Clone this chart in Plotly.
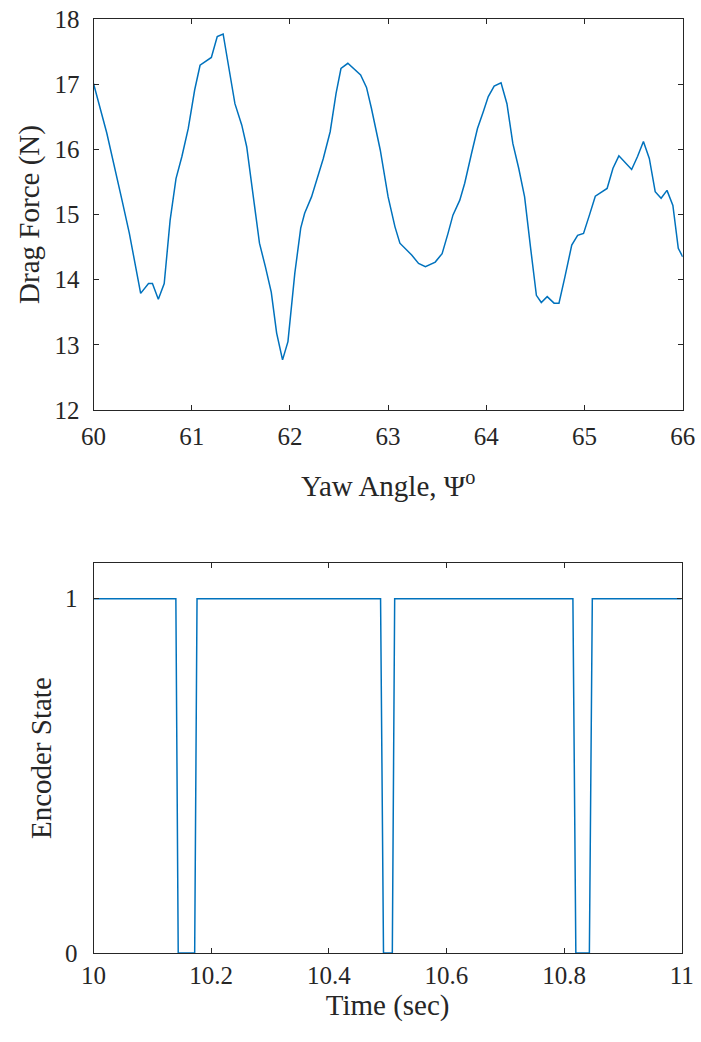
import plotly.graph_objects as go

# Drag force measured against yaw angle
yaw_deg = [60.00, 60.135, 60.29, 60.365, 60.48, 60.56, 60.60, 60.66, 60.72, 60.78,
           60.84, 60.90, 60.965, 61.03, 61.085, 61.20, 61.26, 61.32, 61.44, 61.51,
           61.56, 61.63, 61.69, 61.75, 61.81, 61.865, 61.925, 61.98, 62.05, 62.11,
           62.15, 62.22, 62.34, 62.41, 62.47, 62.52, 62.59, 62.72, 62.78, 62.83,
           62.92, 63.00, 63.07, 63.12, 63.24, 63.31, 63.38, 63.48, 63.55, 63.61,
           63.66, 63.73, 63.78, 63.85, 63.91, 63.97, 64.02, 64.08, 64.15, 64.21,
           64.27, 64.33, 64.39, 64.45, 64.51, 64.56, 64.62, 64.69, 64.74, 64.80,
           64.87, 64.93, 64.99, 65.05, 65.11, 65.23, 65.29, 65.35, 65.48, 65.54,
           65.60, 65.66, 65.72, 65.78, 65.84, 65.90, 65.955, 66.00]
drag_n = [17.01, 16.25, 15.22, 14.71, 13.79, 13.94, 13.94, 13.70, 13.94, 14.91,
          15.55, 15.89, 16.32, 16.91, 17.29, 17.41, 17.73, 17.77, 16.70, 16.37,
          16.04, 15.22, 14.56, 14.20, 13.81, 13.18, 12.77, 13.05, 14.10, 14.79,
          15.02, 15.27, 15.86, 16.27, 16.86, 17.24, 17.32, 17.14, 16.95, 16.63,
          15.99, 15.27, 14.81, 14.56, 14.38, 14.25, 14.20, 14.27, 14.40, 14.71,
          14.99, 15.22, 15.48, 15.94, 16.32, 16.58, 16.81, 16.97, 17.02, 16.70,
          16.09, 15.71, 15.27, 14.50, 13.76, 13.65, 13.74, 13.64, 13.64, 14.04,
          14.53, 14.68, 14.71, 14.99, 15.28, 15.40, 15.71, 15.90, 15.69, 15.89,
          16.12, 15.86, 15.35, 15.25, 15.37, 15.14, 14.48, 14.35]

# Encoder pulse train over one second
time_s = [10.000, 10.140, 10.144, 10.172, 10.176, 10.488, 10.493, 10.508, 10.512,
          10.815, 10.820, 10.843, 10.848, 11.000]
encoder_state = [1, 1, 0, 0, 1, 1, 0, 0, 1, 1, 0, 0, 1, 1]

yaw_ticks = [60, 61, 62, 63, 64, 65, 66]
drag_ticks = [12, 13, 14, 15, 16, 17, 18]
time_ticks = [10, 10.2, 10.4, 10.6, 10.8, 11]
time_labels = ["10", "10.2", "10.4", "10.6", "10.8", "11"]
state_ticks = [0, 1]

LINE = "#0072BD"
AX = "#262626"
FONT = "Liberation Serif"


def serif(labels):
    # wrap each tick label so the serif face is applied inline
    return [f"<span style='font-family:\"{FONT}\", serif'>{t}</span>" for t in labels]


fig = go.Figure()
fig.add_trace(go.Scatter(x=yaw_deg, y=drag_n, mode="lines",
                         line=dict(color=LINE, width=1.5),
                         xaxis="x", yaxis="y", showlegend=False))
fig.add_trace(go.Scatter(x=time_s, y=encoder_state, mode="lines",
                         line=dict(color=LINE, width=1.5),
                         xaxis="x2", yaxis="y2", showlegend=False, cliponaxis=False))


def axis_style(title, standoff):
    return dict(showline=True, linecolor=AX, linewidth=1, mirror="ticks",
                ticks="inside", ticklen=5, tickcolor=AX, tickwidth=1,
                showgrid=False, zeroline=False, automargin=False,
                tickfont=dict(family=FONT, size=25, color=AX),
                title=dict(text=title, standoff=standoff,
                           font=dict(family=FONT, size=29, color=AX)))


fig.update_layout(
    width=701, height=1042,
    margin=dict(l=0, r=0, t=0, b=0),
    paper_bgcolor="white", plot_bgcolor="white",
    font=dict(family=FONT, color=AX, size=25),
    xaxis=dict(domain=[0.1334, 0.9739], range=[60, 66], tickvals=yaw_ticks,
               ticktext=serif([str(v) for v in yaw_ticks]),
               anchor="y", ticklabelstandoff=4,
               **axis_style("Yaw Angle, Ψ<sup>o</sup>", 26)),
    yaxis=dict(domain=[0.6065, 0.9818], range=[12, 18], tickvals=drag_ticks,
               ticktext=serif([str(v) for v in drag_ticks]),
               anchor="x", ticklabelstandoff=8,
               **axis_style("Drag Force (N)", 6)),
    xaxis2=dict(domain=[0.1334, 0.9725], range=[10, 11], tickvals=time_ticks,
                ticktext=serif(time_labels), anchor="y2", ticklabelstandoff=0,
                **axis_style("Time (sec)", 4)),
    yaxis2=dict(domain=[0.0854, 0.4594], range=[0, 1.1], tickvals=state_ticks,
                ticktext=serif([str(v) for v in state_ticks]),
                anchor="x2", ticklabelstandoff=10,
                **axis_style("Encoder State", 4)),
)

fig.write_html("out.html")
